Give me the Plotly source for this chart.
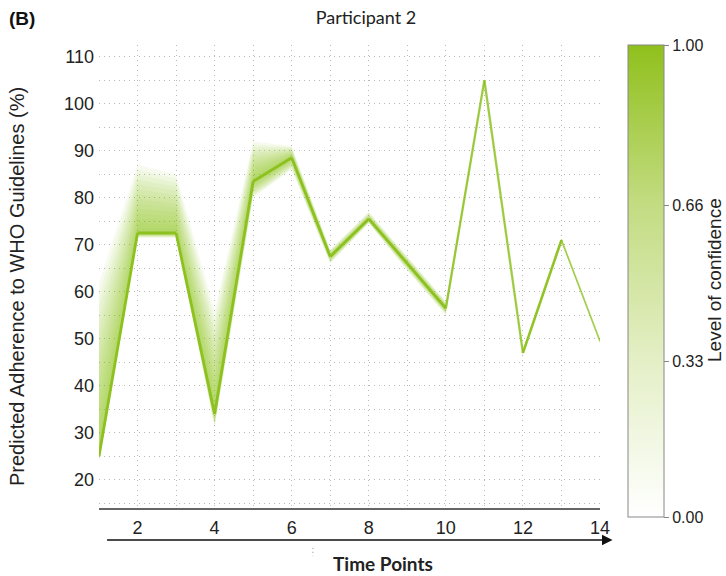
import plotly.graph_objects as go

# Predicted adherence per time point, with the spread of the prediction fan
time_points = [1, 2, 3, 4, 5, 6, 7, 8, 9, 10, 11, 12, 13, 14]
predicted = [25, 72.5, 72.5, 34, 83.5, 88.5, 67.5, 75.5, 66, 56.5, 105, 47, 71, 49.5]
fan_upper = [62, 87, 85, 56, 92, 91, 69, 77, 67.5, 58, 105.4, 47.5, 71.5, 50]
fan_lower = [24, 71.5, 71.5, 31, 80, 86, 66, 74.5, 64.5, 55, 104.6, 46.5, 70.5, 49]
# confidence of each segment between consecutive time points
segment_confidence = [1, 1, 1, 1, 1, 1, 1, 1, 1, 0.7, 0.7, 0.9, 0.35]

y_ticks = [20, 30, 40, 50, 60, 70, 80, 90, 100, 110]
x_ticks = [2, 4, 6, 8, 10, 12, 14]
cbar_ticks = [0, 0.33, 0.66, 1.0]
cbar_labels = ["0.00", "0.33", "0.66", "1.00"]

GREEN = "141,193,31"
greens = [[0, "#ffffff"], [0.33, "#e4efc6"], [0.66, "#c3dc82"], [1, "#90c01c"]]
ARIAL = "Liberation Sans, Arial"

fig = go.Figure()

# layered translucent bands build up the confidence gradient around the prediction
n_layers = 14
for k in range(n_layers, 0, -1):
    f = k / n_layers
    up = [p + f * (u - p) for p, u in zip(predicted, fan_upper)]
    lo = [p + f * (l - p) for p, l in zip(predicted, fan_lower)]
    fig.add_trace(go.Scatter(
        x=time_points + time_points[::-1],
        y=up + lo[::-1],
        fill="toself",
        fillcolor=f"rgba({GREEN},0.07)",
        line=dict(width=0),
        mode="lines",
        hoverinfo="skip",
        showlegend=False,
    ))

# prediction line, segment by segment
for i, c in enumerate(segment_confidence):
    fig.add_trace(go.Scatter(
        x=time_points[i:i + 2],
        y=predicted[i:i + 2],
        mode="lines",
        line=dict(color=f"rgba({GREEN},{0.35 + 0.65 * c:.2f})", width=1.2 + 1.6 * c),
        showlegend=False,
    ))

# colour scale for the level of confidence
fig.add_trace(go.Scatter(
    x=[time_points[0], time_points[-1]],
    y=[predicted[0], predicted[-1]],
    mode="markers",
    marker=dict(
        size=0.1, opacity=0,
        color=[0, 1], cmin=0, cmax=1, colorscale=greens, showscale=True,
        colorbar=dict(
            x=1.056, xanchor="left", xpad=0, y=1.0, yanchor="top", ypad=0,
            lenmode="pixels", len=472, thickness=36,
            outlinecolor="#888888", outlinewidth=1,
            tickmode="array", tickvals=cbar_ticks, ticktext=cbar_labels,
            ticks="outside", ticklen=5, tickcolor="#888888",
            tickfont=dict(family=ARIAL, size=16, color="#222222"),
        ),
    ),
    hoverinfo="skip",
    showlegend=False,
))

DOTS = "1px,4px"
GRID_C = "#b8b8b8"

fig.update_layout(
    width=726, height=576,
    margin=dict(l=99, r=126, t=45, b=68, autoexpand=False),
    paper_bgcolor="white", plot_bgcolor="white",
    font=dict(family=ARIAL, color="#222222"),
    title=dict(text="Participant 2", x=366 / 726, xanchor="center",
               y=1 - 18 / 576, yanchor="middle",
               font=dict(family="Lato", size=18, color="#222222")),
    xaxis=dict(
        range=[1, 14], tickmode="array", tickvals=x_ticks,
        tickfont=dict(size=18), ticks="", zeroline=False, ticklabelstandoff=3,
        showline=True, linecolor="#666666", linewidth=1.5,
        showgrid=True, gridcolor=GRID_C, griddash=DOTS, gridwidth=1,
        minor=dict(dtick=1, tick0=1, showgrid=True, gridcolor=GRID_C, griddash=DOTS),
    ),
    yaxis=dict(
        range=[14, 112.5], tickmode="array", tickvals=y_ticks,
        tickfont=dict(size=18), ticks="", zeroline=False, showline=False,
        ticklabelstandoff=4,
        showgrid=True, gridcolor=GRID_C, griddash=DOTS, gridwidth=1,
        minor=dict(dtick=5, tick0=0, showgrid=True, gridcolor=GRID_C, griddash=DOTS),
    ),
)

# y-axis caption
fig.add_annotation(text="Predicted Adherence to WHO Guidelines (%)", xref="paper", yref="paper",
                   x=(17 - 99) / 501, y=(508 - 287) / 463, textangle=-90, showarrow=False,
                   xanchor="center", yanchor="middle",
                   font=dict(family=ARIAL, size=20, color="#222222"))

# colour bar caption
fig.add_annotation(text="Level of confidence", xref="paper", yref="paper",
                   x=(714 - 99) / 501, y=(508 - 280) / 463, textangle=-90, showarrow=False,
                   xanchor="center", yanchor="middle",
                   font=dict(family=ARIAL, size=19, color="#222222"))

# panel letter
fig.add_annotation(text="<b>(B)</b>", xref="paper", yref="paper",
                   x=-0.184, y=1.058, xanchor="left", yanchor="middle", showarrow=False,
                   font=dict(family=ARIAL, size=19, color="#111111"))

# time arrow under the axis
fig.add_annotation(xref="paper", yref="paper", x=1.025, y=-0.069,
                   axref="pixel", ayref="pixel", ax=-507, ay=0,
                   text="", showarrow=True, arrowhead=2, arrowsize=1.4,
                   arrowwidth=1.5, arrowcolor="#111111")
fig.add_shape(type="line", xref="paper", yref="paper",
              x0=0.427, x1=0.427, y0=-0.086, y1=-0.104,
              line=dict(color="#888888", width=1, dash="1px,3px"))
fig.add_annotation(text="<b>Time Points</b>", xref="paper", yref="paper",
                   x=0.567, y=-0.119, xanchor="center", yanchor="middle", showarrow=False,
                   font=dict(family="Lato", size=19, color="#222222"))

fig.write_html("out.html")
